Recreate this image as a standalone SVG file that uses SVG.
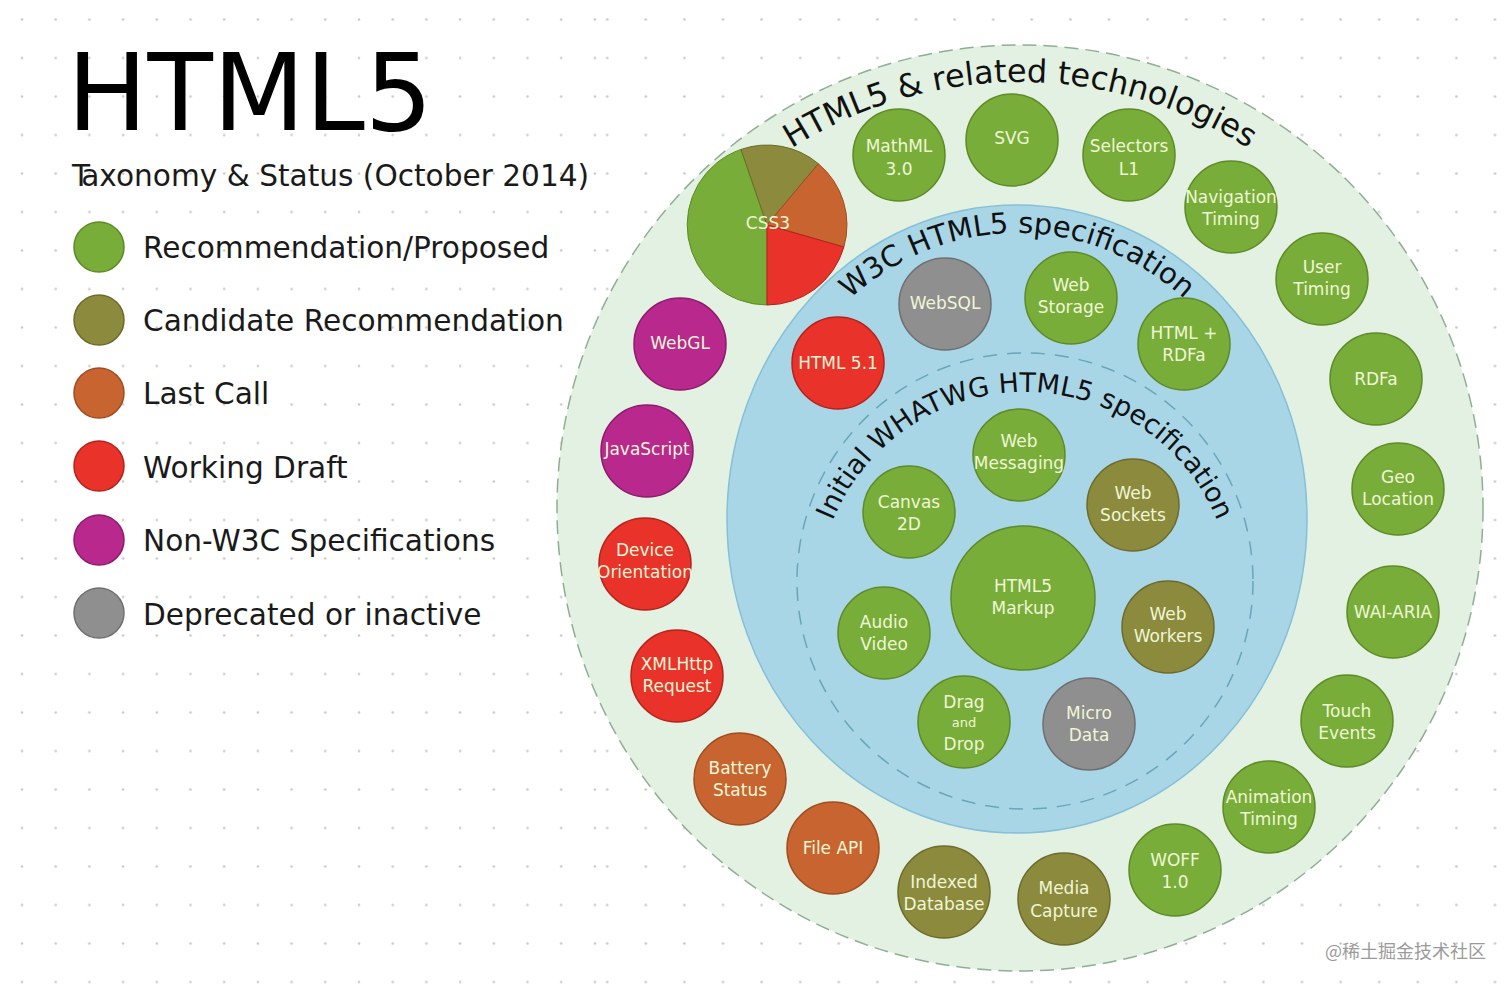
<svg xmlns="http://www.w3.org/2000/svg" width="1512" height="988" viewBox="0 0 1512 988">
<defs>
<pattern id="dotsL" patternUnits="userSpaceOnUse" x="5.15" y="0.25" width="33.7" height="38.5"><circle cx="16.85" cy="19.25" r="1.3" fill="#c9c9c9"/></pattern>
<pattern id="dotsR" patternUnits="userSpaceOnUse" x="8.9" y="0.25" width="38.6" height="38.5"><circle cx="19.3" cy="19.25" r="1.3" fill="#c9c9c9"/></pattern>
<path id="arcOuter" d="M594,508 A426,426 0 0,1 1446,508"/>
<path id="arcW3C" d="M755,519 A262,286 0 0,1 1279,519"/>
<path id="arcWHATWG" d="M817,600 A208,208 0 0,1 1233,600"/>
</defs>
<style>
text{font-family:"DejaVu Sans","Liberation Sans",sans-serif;}
.n circle{stroke-width:1.5;}
.g{fill:#78ad39;stroke:#5e8a27;}
.o{fill:#8b8a3d;stroke:#6c6b2a;}
.or{fill:#c8642f;stroke:#9e4c20;}
.r{fill:#e8322a;stroke:#b4221c;}
.m{fill:#b8288d;stroke:#8c1b6b;}
.gr{fill:#8f8f8f;stroke:#6f6f6f;}
.t{fill:#eff6d6;font-size:17px;text-anchor:middle;}
.ts{fill:#eff6d6;font-size:13px;text-anchor:middle;}
.leg{font-size:29.6px;fill:#1a1a1a;}
.arc{fill:#111;}
</style>
<rect width="1512" height="988" fill="#ffffff"/>
<rect x="0" y="0" width="600" height="988" fill="url(#dotsL)"/>
<rect x="600" y="0" width="912" height="988" fill="url(#dotsR)"/>

<g id="title">
<text x="67" y="130" font-size="107" fill="#000">HTML5</text>
<text x="72" y="186" font-size="29.6" fill="#1a1a1a">T<tspan dx="-4">axonomy &amp; Status (October 2014)</tspan></text>
</g>

<g id="legend">
<circle cx="99" cy="247" r="25" class="g" stroke-width="1.5"/>
<text x="143" y="258" class="leg">Recommendation/Proposed</text>
<circle cx="99" cy="320" r="25" class="o" stroke-width="1.5"/>
<text x="143" y="331" class="leg">Candidate Recommendation</text>
<circle cx="99" cy="393" r="25" class="or" stroke-width="1.5"/>
<text x="143" y="404" class="leg">Last Call</text>
<circle cx="99" cy="466" r="25" class="r" stroke-width="1.5"/>
<text x="143" y="478" class="leg">Working Draft</text>
<circle cx="99" cy="540" r="25" class="m" stroke-width="1.5"/>
<text x="143" y="551" class="leg">Non-W3C Specifications</text>
<circle cx="99" cy="613" r="25" class="gr" stroke-width="1.5"/>
<text x="143" y="625" class="leg">Deprecated or inactive</text>
</g>

<g id="rings">
<circle cx="1020" cy="508" r="463" fill="#e2f1e1" stroke="#8fae95" stroke-width="1.5" stroke-dasharray="14 7"/>
<ellipse cx="1017" cy="519" rx="290" ry="314" fill="#a8d6e7" stroke="#86bfd8" stroke-width="1.5"/>
<circle cx="1025" cy="581" r="228" fill="none" stroke="#6aa5ba" stroke-width="1.5" stroke-dasharray="14 10"/>
<text class="arc" font-size="32"><textPath href="#arcOuter" startOffset="50%" text-anchor="middle">HTML5 &amp; related technologies</textPath></text>
<text class="arc" font-size="29"><textPath href="#arcW3C" startOffset="50%" text-anchor="middle">W3C HTML5 specification</textPath></text>
<text class="arc" font-size="27"><textPath href="#arcWHATWG" startOffset="50%" text-anchor="middle">Initial WHATWG HTML5 specification</textPath></text>
</g>

<g id="connectors"></g>

<g id="css3" class="n">
<path d="M767,225 L767,305 A80,80 0 0,1 741.0,149.4 Z" class="g" stroke-width="1"/>
<path d="M767,225 L741.0,149.4 A80,80 0 0,1 818.4,163.7 Z" class="o" stroke-width="1"/>
<path d="M767,225 L818.4,163.7 A80,80 0 0,1 843.9,247.0 Z" class="or" stroke-width="1"/>
<path d="M767,225 L843.9,247.0 A80,80 0 0,1 767,305 Z" class="r" stroke-width="1"/>
<text x="768" y="229" class="t">CSS3</text>
</g>

<g id="mathml" class="n"><circle cx="899" cy="155" r="46" class="g"/><text x="899" y="152" class="t">MathML</text><text x="899" y="175" class="t">3.0</text></g>
<g id="svg" class="n"><circle cx="1012" cy="140" r="46" class="g"/><text x="1012" y="144" class="t">SVG</text></g>
<g id="selectors" class="n"><circle cx="1129" cy="155" r="46" class="g"/><text x="1129" y="152" class="t">Selectors</text><text x="1129" y="175" class="t">L1</text></g>
<g id="navtiming" class="n"><circle cx="1231" cy="207" r="46" class="g"/><text x="1231" y="203" class="t">Navigation</text><text x="1231" y="225" class="t">Timing</text></g>
<g id="usertiming" class="n"><circle cx="1322" cy="279" r="46" class="g"/><text x="1322" y="273" class="t">User</text><text x="1322" y="295" class="t">Timing</text></g>
<g id="rdfa" class="n"><circle cx="1376" cy="379" r="46" class="g"/><text x="1376" y="385" class="t">RDFa</text></g>
<g id="geo" class="n"><circle cx="1398" cy="489" r="46" class="g"/><text x="1398" y="483" class="t">Geo</text><text x="1398" y="505" class="t">Location</text></g>
<g id="waiaria" class="n"><circle cx="1393" cy="612" r="46" class="g"/><text x="1393" y="618" class="t">WAI-ARIA</text></g>
<g id="touch" class="n"><circle cx="1347" cy="721" r="46" class="g"/><text x="1347" y="717" class="t">Touch</text><text x="1347" y="739" class="t">Events</text></g>
<g id="animtiming" class="n"><circle cx="1269" cy="807" r="46" class="g"/><text x="1269" y="803" class="t">Animation</text><text x="1269" y="825" class="t">Timing</text></g>
<g id="woff" class="n"><circle cx="1175" cy="870" r="46" class="g"/><text x="1175" y="866" class="t">WOFF</text><text x="1175" y="888" class="t">1.0</text></g>
<g id="mediacapture" class="n"><circle cx="1064" cy="899" r="46" class="o"/><text x="1064" y="894" class="t">Media</text><text x="1064" y="917" class="t">Capture</text></g>
<g id="indexeddb" class="n"><circle cx="944" cy="892" r="46" class="o"/><text x="944" y="888" class="t">Indexed</text><text x="944" y="910" class="t">Database</text></g>
<g id="fileapi" class="n"><circle cx="833" cy="848" r="46" class="or"/><text x="833" y="854" class="t">File API</text></g>
<g id="battery" class="n"><circle cx="740" cy="779" r="46" class="or"/><text x="740" y="774" class="t">Battery</text><text x="740" y="796" class="t">Status</text></g>
<g id="xhr" class="n"><circle cx="677" cy="676" r="46" class="r"/><text x="677" y="670" class="t">XMLHttp</text><text x="677" y="692" class="t">Request</text></g>
<g id="deviceorient" class="n"><circle cx="645" cy="564" r="46" class="r"/><text x="645" y="556" class="t">Device</text><text x="645" y="578" class="t">Orientation</text></g>
<g id="javascript" class="n"><circle cx="647" cy="451" r="46" class="m"/><text x="647" y="455" class="t">JavaScript</text></g>
<g id="webgl" class="n"><circle cx="680" cy="344" r="46" class="m"/><text x="680" y="349" class="t">WebGL</text></g>

<g id="websql" class="n"><circle cx="945" cy="304" r="46" class="gr"/><text x="945" y="309" class="t">WebSQL</text></g>
<g id="webstorage" class="n"><circle cx="1071" cy="298" r="46" class="g"/><text x="1071" y="291" class="t">Web</text><text x="1071" y="313" class="t">Storage</text></g>
<g id="htmlrdfa" class="n"><circle cx="1184" cy="344" r="46" class="g"/><text x="1184" y="339" class="t">HTML +</text><text x="1184" y="361" class="t">RDFa</text></g>
<g id="html51" class="n"><circle cx="838" cy="363" r="46" class="r"/><text x="838" y="369" class="t">HTML 5.1</text></g>

<g id="webmessaging" class="n"><circle cx="1019" cy="455" r="46" class="g"/><text x="1019" y="447" class="t">Web</text><text x="1019" y="469" class="t">Messaging</text></g>
<g id="canvas" class="n"><circle cx="909" cy="512" r="46" class="g"/><text x="909" y="508" class="t">Canvas</text><text x="909" y="530" class="t">2D</text></g>
<g id="websockets" class="n"><circle cx="1133" cy="505" r="46" class="o"/><text x="1133" y="499" class="t">Web</text><text x="1133" y="521" class="t">Sockets</text></g>
<g id="html5markup" class="n"><circle cx="1023" cy="598" r="72" class="g"/><text x="1023" y="592" class="t">HTML5</text><text x="1023" y="614" class="t">Markup</text></g>
<g id="audiovideo" class="n"><circle cx="884" cy="633" r="46" class="g"/><text x="884" y="628" class="t">Audio</text><text x="884" y="650" class="t">Video</text></g>
<g id="webworkers" class="n"><circle cx="1168" cy="627" r="46" class="o"/><text x="1168" y="620" class="t">Web</text><text x="1168" y="642" class="t">Workers</text></g>
<g id="dragdrop" class="n"><circle cx="964" cy="722" r="46" class="g"/><text x="964" y="708" class="t">Drag</text><text x="964" y="727" class="ts">and</text><text x="964" y="750" class="t">Drop</text></g>
<g id="microdata" class="n"><circle cx="1089" cy="724" r="46" class="gr"/><text x="1089" y="719" class="t">Micro</text><text x="1089" y="741" class="t">Data</text></g>

<text x="1486" y="958" font-size="18" fill="#9b9b9b" text-anchor="end" style="font-family:'Noto Sans CJK SC','DejaVu Sans',sans-serif">@稀土掘金技术社区</text>
</svg>
